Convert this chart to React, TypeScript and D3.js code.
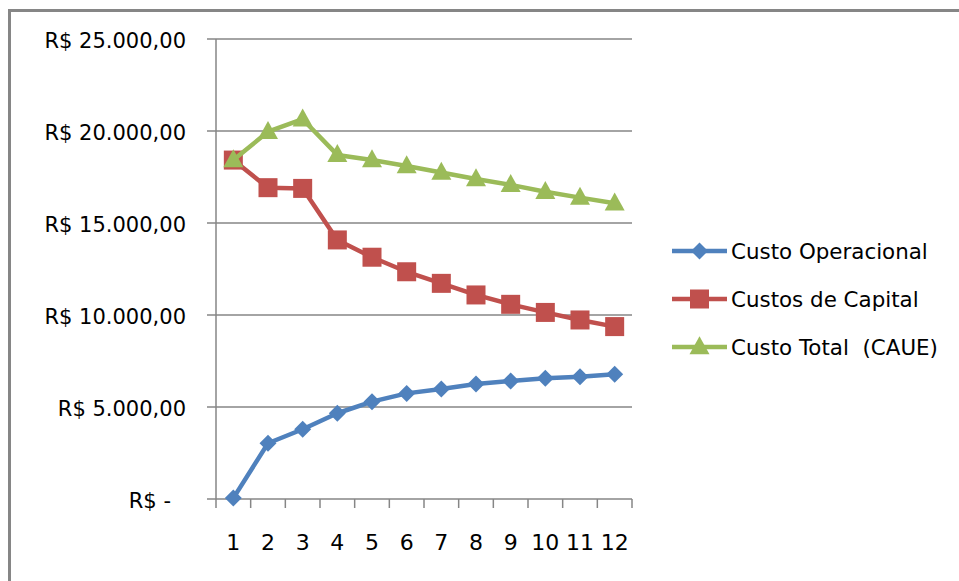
import React from "react";
import * as d3 from "d3";

const years = [1, 2, 3, 4, 5, 6, 7, 8, 9, 10, 11, 12];
const custoOperacional = [50, 3030, 3790, 4660, 5290, 5740, 5980, 6250, 6410, 6560, 6650, 6780];
const custosCapital = [18420, 16920, 16880, 14080, 13140, 12350, 11720, 11090, 10580, 10140, 9730, 9370];
const custoTotal = [18420, 19960, 20640, 18700, 18420, 18100, 17740, 17390, 17070, 16700, 16380, 16070];
const yTicks = [0, 5000, 10000, 15000, 20000, 25000];
const seriesNames = ["Custo Operacional", "Custos de Capital", "Custo Total  (CAUE)"];

const W = 959;
const H = 581;
const left = 216;
const right = 632;
const top = 39;
const bottom = 499;
const gridColor = "#868686";
const font = "DejaVu Sans, Liberation Sans, sans-serif";

const colors = ["#4F81BD", "#C0504D", "#9BBB59"];

function fmt(v: number): string {
  if (v === 0) return "R$ -";
  const s = d3.format(",.2f")(v); // 25,000.00
  return "R$ " + s.replace(/,/g, "#").replace(".", ",").replace(/#/g, ".");
}

function Marker({ kind, x, y, color }: { kind: number; x: number; y: number; color: string }) {
  if (kind === 0) {
    const r = 8.5;
    return <path d={`M${x},${y - r}L${x + r},${y}L${x},${y + r}L${x - r},${y}Z`} fill={color} />;
  }
  if (kind === 1) {
    const s = 19;
    return <rect x={x - s / 2} y={y - s / 2} width={s} height={s} fill={color} />;
  }
  const w = 20;
  const h = 18;
  return <path d={`M${x},${y - h * 0.6}L${x + w / 2},${y + h * 0.4}L${x - w / 2},${y + h * 0.4}Z`} fill={color} />;
}

export default function App() {
  const x = d3.scaleBand<number>().domain(years).range([left, right]).padding(0);
  const y = d3.scaleLinear().domain([0, 25000]).range([bottom, top]);
  const cx = (d: number) => (x(d) as number) + x.bandwidth() / 2;
  const series = [custoOperacional, custosCapital, custoTotal];
  const line = d3
    .line<number>()
    .x((_, i) => cx(years[i]))
    .y((v) => y(v));

  const legendY = [251, 299, 347];

  return (
    <svg
      width={W}
      height={H}
      style={{ position: "absolute", left: 0, top: 0, background: "#fff" }}
      fontFamily={font}
    >
      <rect x={0} y={0} width={W} height={H} fill="#fff" />
      {/* chart frame */}
      <line x1={9.5} x2={9.5} y1={9} y2={H} stroke={gridColor} strokeWidth={3} />
      <line x1={8} x2={W} y1={10.5} y2={10.5} stroke={gridColor} strokeWidth={3} />

      {/* gridlines and y axis labels */}
      {yTicks.map((t) => (
        <g key={t}>
          <line x1={207} x2={right} y1={y(t)} y2={y(t)} stroke={gridColor} strokeWidth={1.5} />
          <text
            x={t === 0 ? 171 : 186}
            y={y(t) + 2}
            textAnchor="end"
            dominantBaseline="central"
            fontSize={21}
            fill="#000"
          >
            {fmt(t)}
          </text>
        </g>
      ))}

      {/* y axis */}
      <line x1={left} x2={left} y1={top} y2={bottom + 9} stroke={gridColor} strokeWidth={1.5} />
      {/* x ticks */}
      {years.map((d) => (
        <line
          key={d}
          x1={(x(d) as number) + x.bandwidth()}
          x2={(x(d) as number) + x.bandwidth()}
          y1={bottom}
          y2={bottom + 9}
          stroke={gridColor}
          strokeWidth={1.5}
        />
      ))}
      {years.map((d) => (
        <text key={d} x={cx(d)} y={542} textAnchor="middle" dominantBaseline="central" fontSize={22} fill="#000">
          {d}
        </text>
      ))}

      {/* series */}
      {series.map((vals, si) => (
        <g key={si}>
          <path d={line(vals) || ""} fill="none" stroke={colors[si]} strokeWidth={4.5} strokeLinejoin="round" />
          {vals.map((v, i) => (
            <Marker key={i} kind={si} x={cx(years[i])} y={y(v)} color={colors[si]} />
          ))}
        </g>
      ))}

      {/* legend */}
      {seriesNames.map((name, si) => (
        <g key={name}>
          <line x1={672} x2={727} y1={legendY[si]} y2={legendY[si]} stroke={colors[si]} strokeWidth={4.5} />
          <Marker kind={si} x={699.5} y={legendY[si]} color={colors[si]} />
          <text
            x={731}
            y={legendY[si]}
            dominantBaseline="central"
            fontSize={21.4}
            fill="#000"
            style={{ whiteSpace: "pre" }}
          >
            {name}
          </text>
        </g>
      ))}
    </svg>
  );
}
